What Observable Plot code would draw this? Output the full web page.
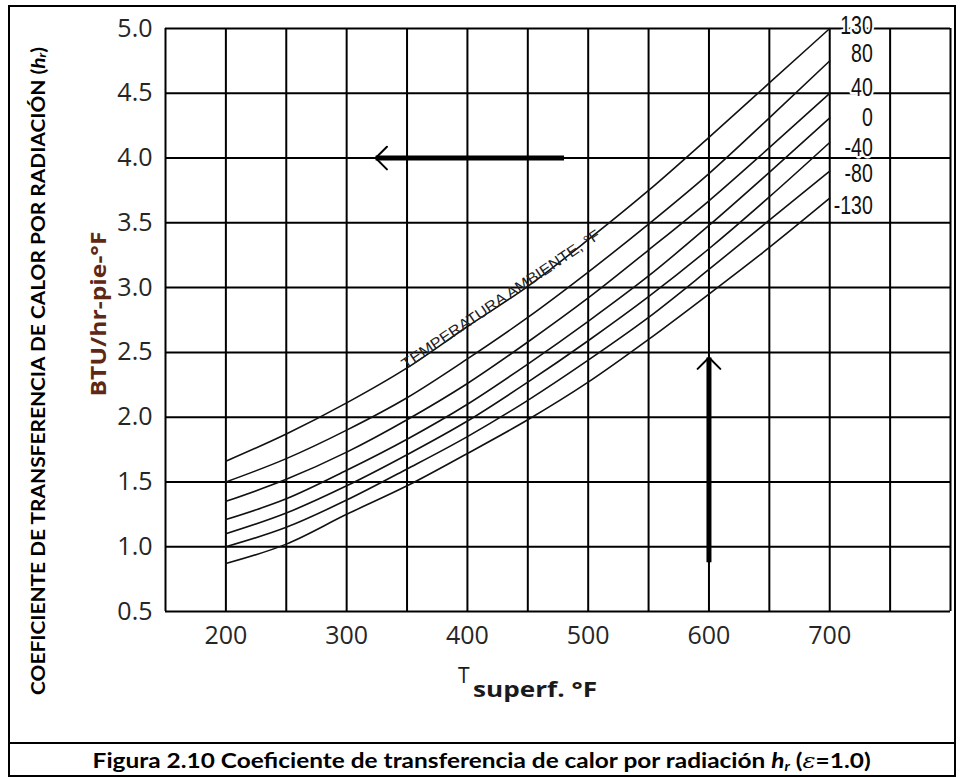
<!DOCTYPE html>
<html>
<head>
<meta charset="utf-8">
<script src="https://cdn.jsdelivr.net/npm/d3@7"></script>
<script src="https://cdn.jsdelivr.net/npm/@observablehq/plot@0.6"></script>
<style>
  html, body { margin: 0; padding: 0; background: #fff; }
  #wrap { position: relative; width: 964px; height: 778px; overflow: hidden; }
  #frame { position: absolute; left: 8px; top: 5px; width: 948px; height: 772px; border: 2px solid #000; box-sizing: border-box; pointer-events: none; }
  #chart { position: absolute; left: 0; top: 0; }
  #caption { position: absolute; left: 8px; top: 742px; width: 948px; height: 35px; border-top: 2px solid #000; box-sizing: border-box;
    text-align: center; color: #000; }
  #capText { display: inline-block; transform-origin: 50% 50%; white-space: nowrap;
    font-family: Lato, "Open Sans", sans-serif; font-weight: bold; font-size: 21px; line-height: 32px; }
  #capText sub { font-size: 13px; vertical-align: -3px; line-height: 0; }
</style>
</head>
<body>
<div id="wrap">
  <div id="chart"></div>
  <div id="caption"><span id="capText">Figura 2.10 Coeficiente de transferencia de calor por radiación <i>h<sub>r</sub></i> (<i style="font-family:'DejaVu Serif',serif;font-weight:normal">ε</i>=1.0)</span></div>
  <div id="frame"></div>
</div>
<script>
// ---- data ----
const ambientTemps = ["130", "80", "40", "0", "-40", "-80", "-130"];
const ambientLabelH = [5.02, 4.80, 4.54, 4.31, 4.08, 3.88, 3.63];   // where each label sits on the h axis
const surfaceTemps = [200, 250, 300, 350, 400, 450, 500, 550, 600, 650, 700];
const hr130  = [1.66, 1.87, 2.11, 2.38, 2.70, 3.01, 3.37, 3.75, 4.16, 4.58, 5.00];
const hr80   = [1.50, 1.68, 1.90, 2.15, 2.45, 2.77, 3.12, 3.49, 3.88, 4.31, 4.75];
const hr40   = [1.35, 1.52, 1.73, 1.98, 2.26, 2.58, 2.92, 3.29, 3.67, 4.08, 4.50];
const hr0    = [1.21, 1.37, 1.59, 1.83, 2.10, 2.41, 2.74, 3.09, 3.48, 3.89, 4.31];
const hrM40  = [1.10, 1.26, 1.47, 1.71, 1.97, 2.27, 2.59, 2.93, 3.30, 3.70, 4.12];
const hrM80  = [1.00, 1.15, 1.36, 1.60, 1.85, 2.13, 2.44, 2.77, 3.14, 3.52, 3.90];
const hrM130 = [0.87, 1.02, 1.25, 1.47, 1.72, 1.98, 2.27, 2.60, 2.95, 3.31, 3.69];
const xTicks = [200, 300, 400, 500, 600, 700];
const xGrid = [150, 200, 250, 300, 350, 400, 450, 500, 550, 600, 650, 700, 750, 800];
const yTicks = [0.5, 1.0, 1.5, 2.0, 2.5, 3.0, 3.5, 4.0, 4.5, 5.0];
const arrowTails = [[480, 4.0], [600, 0.88]];
const arrowTips  = [[324, 4.0], [600, 2.46]];
const curveLabel = "TEMPERATURA AMBIENTE, °F";
const curveLabelAt = 425;

const seriesValues = [hr130, hr80, hr40, hr0, hrM40, hrM80, hrM130];
const rows = [];
ambientTemps.forEach((amb, k) => surfaceTemps.forEach((t, i) => rows.push({amb, t, h: seriesValues[k][i]})));
const lastT = surfaceTemps[surfaceTemps.length - 1];
const ends = ambientTemps.map((amb, k) => ({amb, t: lastT, h: ambientLabelH[k]}));
const arrows = arrowTails.map((a, i) => ({x1: a[0], y1: a[1], x2: arrowTips[i][0], y2: arrowTips[i][1]}));
const iL = surfaceTemps.indexOf(400), iR = surfaceTemps.indexOf(450);
const labelRow = [{t: curveLabelAt, h: (hr130[iL] + hr130[iR]) / 2, text: curveLabel}];

const tickFont = "'Open Sans', Lato, sans-serif";
const chart = Plot.plot({
  width: 964,
  height: 740,
  marginLeft: 165,
  marginRight: 14,
  marginTop: 28,
  marginBottom: 129,
  style: {background: "transparent", fontFamily: tickFont, overflow: "visible"},
  x: {domain: [150, 800]},
  y: {domain: [0.5, 5.0]},
  marks: [
    Plot.ruleX(xGrid, {stroke: "#000", strokeWidth: 2}),
    Plot.ruleY(yTicks, {stroke: "#000", strokeWidth: 2}),
    Plot.line(rows, {x: "t", y: "h", z: "amb", curve: "monotone-x", stroke: "#111", strokeWidth: 1.6}),
    Plot.text(ends, {x: "t", y: "h", text: "amb", textAnchor: "end", dx: 43, fontSize: 25,
      fontFamily: "'Liberation Sans', Arial, sans-serif",
      fill: "#111", stroke: "#fff", strokeWidth: 5, paintOrder: "stroke"}),
    Plot.text(labelRow, {x: "t", y: "h", text: "text", rotate: -34, lineAnchor: "bottom", dy: -3, dx: 6,
      fontSize: 15, fontFamily: "'Liberation Sans', Arial, sans-serif", fill: "#222"}),
    Plot.link(arrows, {x1: "x1", y1: "y1", x2: "x2", y2: "y2", stroke: "#000", strokeWidth: 5}),
    Plot.arrow(arrows, {x1: "x1", y1: "y1", x2: "x2", y2: "y2", stroke: "#000", strokeWidth: 2, headLength: 12, headAngle: 90}),
    Plot.axisX(xTicks, {tickSize: 0, tickPadding: 15, fontSize: 25, fill: "#262626", label: null, fontFamily: tickFont}),
    Plot.axisY(yTicks, {tickSize: 0, tickPadding: 13, fontSize: 25, fill: "#262626", label: null, tickFormat: d3.format(".1f"), fontFamily: tickFont})
  ]
});
document.getElementById("chart").appendChild(chart);

const svg = d3.select(chart);

// condense the ambient-temperature labels (narrow, tall lettering in the reference)
svg.selectAll("text").filter(function () { return ambientTemps.includes(this.textContent); })
  .each(function () {
    const tr = this.getAttribute("transform") || "";
    this.setAttribute("transform", tr + " scale(0.78,1)");
  });
// stretch the curve annotation to its reference length
svg.selectAll("text").filter(function () { return this.textContent === curveLabel; })
  .attr("textLength", 236).attr("lengthAdjust", "spacingAndGlyphs");

// axis titles (real text with sub/superscript parts)
const t1 = svg.append("text")
  .attr("transform", "translate(37,371) rotate(-90)")
  .attr("text-anchor", "middle").attr("dominant-baseline", "central")
  .attr("textLength", 648).attr("lengthAdjust", "spacingAndGlyphs")
  .attr("font-family", "Lato, 'Open Sans', sans-serif").attr("font-weight", "bold").attr("font-size", 19).attr("fill", "#000");
t1.append("tspan").text("COEFICIENTE DE TRANSFERENCIA DE CALOR POR RADIACIÓN (");
t1.append("tspan").attr("font-style", "italic").text("h");
t1.append("tspan").attr("font-style", "italic").attr("font-size", 12).attr("dy", 4).text("r");
t1.append("tspan").attr("dy", -4).text(")");

svg.append("text")
  .attr("transform", "translate(98,314) rotate(-90)")
  .attr("text-anchor", "middle").attr("dominant-baseline", "central")
  .attr("textLength", 165).attr("lengthAdjust", "spacingAndGlyphs")
  .attr("font-family", "'Open Sans', Lato, sans-serif").attr("font-weight", "bold").attr("font-size", 21)
  .attr("fill", "#5e2814").text("BTU/hr-pie-°F");

svg.append("text").attr("x", 458).attr("y", 683).attr("text-anchor", "start")
  .attr("font-family", "'Open Sans', Lato, sans-serif").attr("font-size", 21).attr("fill", "#1a1a1a").text("T");
svg.append("text").attr("x", 473).attr("y", 697).attr("text-anchor", "start")
  .attr("textLength", 124).attr("lengthAdjust", "spacingAndGlyphs")
  .attr("font-family", "'Open Sans', Lato, sans-serif").attr("font-size", 21).attr("font-weight", "bold")
  .attr("fill", "#1a1a1a").text("superf. °F");

// caption: stretch to the reference width
const cap = document.getElementById("capText");
const cw = cap.getBoundingClientRect().width;
cap.style.transform = `scaleX(${778 / cw})`;
</script>
</body>
</html>
